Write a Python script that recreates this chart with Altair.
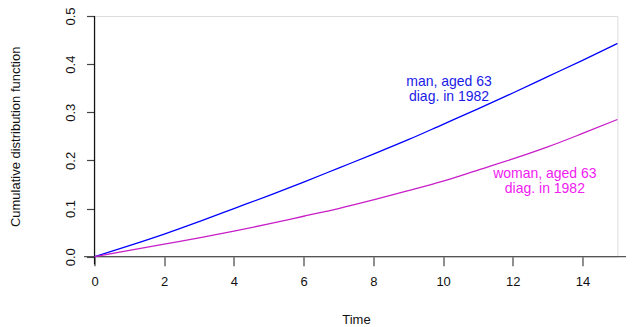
import altair as alt
import pandas as pd

# ---- data ----
time = list(range(16))
man_cdf = [0.000, 0.023, 0.047, 0.073, 0.100, 0.127, 0.155, 0.184, 0.213,
           0.243, 0.275, 0.307, 0.340, 0.374, 0.408, 0.443]
woman_cdf = [0.000, 0.013, 0.026, 0.039, 0.053, 0.068, 0.084, 0.100, 0.118,
             0.137, 0.157, 0.180, 0.203, 0.228, 0.256, 0.285]
groups = ["man", "woman"]
x_ticks = [0, 2, 4, 6, 8, 10, 12, 14]
y_ticks = [0.0, 0.1, 0.2, 0.3, 0.4, 0.5]
label_text = ["man, aged 63\ndiag. in 1982", "woman, aged 63\ndiag. in 1982"]
label_x = [10.17, 12.92]
label_y = [0.362, 0.172]

colors = ["#0000ff", "#c81ec8"]
text_colors = ["#1a1ae6", "#f020f0"]
FONT = "Liberation Sans"

df = pd.DataFrame({
    "time": time * 2,
    "cdf": man_cdf + woman_cdf,
    "group": [groups[0]] * len(time) + [groups[1]] * len(time),
})
labels = pd.DataFrame({"x": label_x, "y": label_y, "text": label_text,
                       "label_group": groups})

xs = alt.Scale(domain=[0, 15], nice=False, zero=False)
ys = alt.Scale(domain=[0, 0.5], nice=False, zero=False)

x_axis = alt.Axis(values=x_ticks, domain=False, ticks=True, tickSize=9, tickColor="#444",
                  tickWidth=1.2, grid=False, labelFontSize=13, labelFont=FONT,
                  labelColor="#111", labelPadding=10, labelFlush=False, title="Time",
                  titleFont=FONT, titleFontSize=13, titleFontWeight="normal",
                  titlePadding=25, titleColor="#111", format="d")
y_axis = alt.Axis(values=y_ticks, domain=False, ticks=True, tickSize=8, tickColor="#444",
                  tickWidth=1.2, grid=False, labelFontSize=13, labelFont=FONT,
                  labelColor="#111", labelAngle=-90, labelPadding=9, labelFlush=False,
                  format=".1f", title="Cumulative distribution function", titleFont=FONT,
                  titleFontSize=13, titleFontWeight="normal", titlePadding=42,
                  titleColor="#111")

lines = alt.Chart(df).mark_line(interpolate="monotone", strokeWidth=1.3).encode(
    x=alt.X("time:Q", scale=xs, axis=x_axis),
    y=alt.Y("cdf:Q", scale=ys, axis=y_axis),
    color=alt.Color("group:N", scale=alt.Scale(domain=groups, range=colors), legend=None),
)

hline = alt.Chart(pd.DataFrame({"x": [-0.3], "x2": [15.25], "y": [0.0]})).mark_rule(
    color="#555", strokeWidth=1.2).encode(
    x=alt.X("x:Q", scale=xs), x2="x2:Q", y=alt.Y("y:Q", scale=ys))
vline = alt.Chart(pd.DataFrame({"x": [0.0], "y": [-0.016], "y2": [0.5]})).mark_rule(
    color="#111", strokeWidth=1.2).encode(
    x=alt.X("x:Q", scale=xs), y=alt.Y("y:Q", scale=ys), y2="y2:Q")

text = alt.Chart(labels).mark_text(font=FONT, fontSize=14, align="center",
                                   baseline="middle", lineBreak="\n", lineHeight=15).encode(
    x=alt.X("x:Q", scale=xs), y=alt.Y("y:Q", scale=ys), text="text:N",
    color=alt.Color("label_group:N", scale=alt.Scale(domain=groups, range=text_colors),
                    legend=None),
)

chart = alt.layer(hline, vline, lines, text).resolve_scale(color="independent").properties(
    width=522.9, height=240.7,
    autosize=alt.AutoSizeParams(type="none"),
    padding={"left": 86.5, "top": 8, "right": 8.6, "bottom": 70},
).configure_view(stroke=None).configure(background="white")

chart.save("out.html", embed_options={"renderer": "svg", "actions": False})
